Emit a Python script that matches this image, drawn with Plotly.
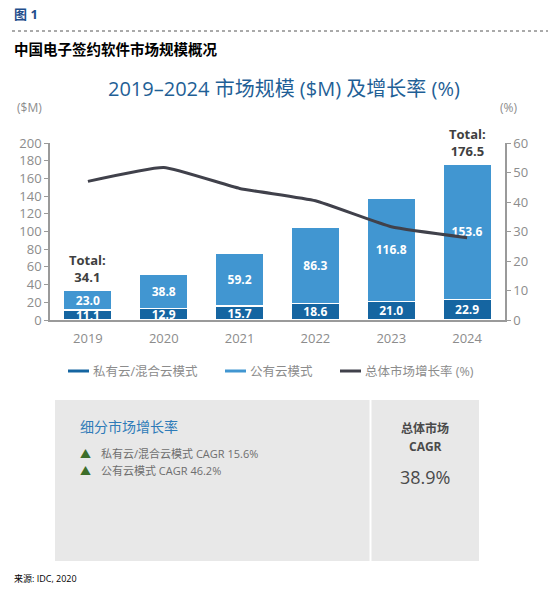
import plotly.graph_objects as go

years = ["2019", "2020", "2021", "2022", "2023", "2024"]
private_cloud = [11.1, 12.9, 15.7, 18.6, 21.0, 22.9]
public_cloud = [23.0, 38.8, 59.2, 86.3, 116.8, 153.6]
growth_rate = [47.0, 51.7, 44.6, 40.4, 31.6, 27.9]
total_years = ["2019", "2024"]
total_values = [34.1, 176.5]
left_ticks = list(range(0, 201, 20))
right_ticks = list(range(0, 61, 10))

# page body has an 8px margin, so the figure is a bit smaller than the window
W, H = 548, 583
L, R, T, B = 42, 51, 135, 271
FONT = "Open Sans, Noto Sans CJK SC, sans-serif"
DARK_BLUE = "#1565a1"
LIGHT_BLUE = "#4196d1"
LINE_C = "#40414b"
AXIS_C = "#9a9a9a"
TICK_C = "#8c8c8c"


def fx(p):  # window pixel -> paper x
    return (p - 8 - L) / (W - L - R)


def fy(p):  # window pixel -> paper y
    return (H - B - (p - 8)) / (H - T - B)


fig = go.Figure()
fig.add_trace(go.Bar(
    x=years, y=private_cloud, name="私有云/混合云模式",
    marker=dict(color=DARK_BLUE, line=dict(color="white", width=1.5)),
    texttemplate="<b>%{y:.1f}</b>", textposition="inside", insidetextanchor="middle",
    textfont=dict(color="white", size=12, family="Open Sans"),
))
fig.add_trace(go.Bar(
    x=years, y=public_cloud, name="公有云模式",
    marker=dict(color=LIGHT_BLUE, line=dict(color="white", width=1.5)),
    texttemplate="<b>%{y:.1f}</b>", textposition="inside", insidetextanchor="middle",
    textfont=dict(color="white", size=12, family="Open Sans"),
))
fig.add_trace(go.Scatter(
    x=years, y=growth_rate, name="总体市场增长率 (%)", yaxis="y2",
    mode="lines", line=dict(color=LINE_C, width=3, shape="spline", smoothing=0.4),
))

# "Total:" labels above the first and last bars
for yr, tot in zip(total_years, total_values):
    fig.add_annotation(x=years.index(yr), y=tot, xref="x", yref="y",
                       text=f"<b>Total:<br>{tot}</b>", showarrow=False,
                       yanchor="bottom", yshift=2,
                       font=dict(size=13, color="#404040", family="Open Sans"))

ann = []
shapes = []
# header
ann.append(dict(x=fx(12), y=fy(14), text="<b>图 1</b>", xanchor="left", yanchor="middle",
                font=dict(size=13, color="#1f4e8c")))
shapes.append(dict(type="line", xref="paper", yref="paper", x0=fx(12), x1=fx(560),
                   y0=fy(31), y1=fy(31), line=dict(color="#555555", width=1, dash="dot")))
ann.append(dict(x=fx(12), y=fy(49), text="<b>中国电子签约软件市场规模概况</b>", xanchor="left",
                yanchor="middle", font=dict(size=14.5, color="black")))
ann.append(dict(x=fx(284), y=fy(88), text="2019–2024 市场规模 ($M) 及增长率 (%)",
                xanchor="center", yanchor="middle", font=dict(size=20, color="#1f5f96")))
ann.append(dict(x=fx(29), y=fy(108), text="($M)", xanchor="center", yanchor="middle",
                font=dict(size=12, color=TICK_C)))
ann.append(dict(x=fx(508), y=fy(108), text="(%)", xanchor="center", yanchor="middle",
                font=dict(size=12, color=TICK_C)))

# legend
legend_items = [
    (68, DARK_BLUE, "私有云/混合云模式"),
    (225, LIGHT_BLUE, "公有云模式"),
    (340, LINE_C, "总体市场增长率 (%)"),
]
for x0, col, label in legend_items:
    shapes.append(dict(type="rect", xref="paper", yref="paper", x0=fx(x0), x1=fx(x0 + 21),
                       y0=fy(372.5), y1=fy(369.5), fillcolor=col, line=dict(width=0)))
    ann.append(dict(x=fx(x0 + 23), y=fy(371), text=label, xanchor="left", yanchor="middle",
                    font=dict(size=12.5, color=TICK_C)))

# summary box
shapes.append(dict(type="rect", xref="paper", yref="paper", x0=fx(55), x1=fx(369.5),
                   y0=fy(561), y1=fy(400), fillcolor="#e8e8e8", line=dict(width=0), layer="below"))
shapes.append(dict(type="rect", xref="paper", yref="paper", x0=fx(371.5), x1=fx(479),
                   y0=fy(561), y1=fy(400), fillcolor="#e8e8e8", line=dict(width=0), layer="below"))
ann.append(dict(x=fx(78), y=fy(426), text="细分市场增长率", xanchor="left", yanchor="middle",
                font=dict(size=14, color="#2e7bb8")))
for py, txt in [(453, "私有云/混合云模式 CAGR 15.6%"), (470, "公有云模式 CAGR 46.2%")]:
    ann.append(dict(x=fx(85), y=fy(py), text="▲", xanchor="center", yanchor="middle",
                    font=dict(size=11, color="#3d6e2a")))
    ann.append(dict(x=fx(99), y=fy(py), text=txt, xanchor="left", yanchor="middle",
                    font=dict(size=11, color="#6e6e6e")))
ann.append(dict(x=fx(425), y=fy(428), text="<b>总体市场</b>", xanchor="center", yanchor="middle",
                font=dict(size=12, color="#4a4a4a")))
ann.append(dict(x=fx(425), y=fy(446), text="<b>CAGR</b>", xanchor="center", yanchor="middle",
                font=dict(size=12, color="#4a4a4a")))
ann.append(dict(x=fx(425), y=fy(477), text="38.9%", xanchor="center", yanchor="middle",
                font=dict(size=18, color="#4a4a4a")))
ann.append(dict(x=fx(12), y=fy(578), text="来源: IDC, 2020", xanchor="left", yanchor="middle",
                font=dict(size=9, color="black")))

for a in ann:
    a.update(xref="paper", yref="paper", showarrow=False)
    fig.add_annotation(**a)

fig.update_layout(
    width=W, height=H, margin=dict(l=L, r=R, t=T, b=B, autoexpand=False),
    barmode="stack", bargap=0.36, showlegend=False,
    plot_bgcolor="white", paper_bgcolor="white",
    font=dict(family=FONT, color=TICK_C),
    uniformtext=dict(minsize=12, mode="show"),
    shapes=shapes,
    xaxis=dict(type="category", showline=True, linecolor=AXIS_C, linewidth=1.5, ticks="",
               showgrid=False, ticklabelstandoff=6,
               tickfont=dict(size=13, color=TICK_C), range=[-0.5, 5.5]),
    yaxis=dict(range=[0, 200], tickvals=left_ticks, showline=True, linecolor=AXIS_C,
               linewidth=1.5, ticks="outside", ticklen=4, tickcolor=AXIS_C, showgrid=False,
               zeroline=False, tickfont=dict(size=13, color=TICK_C)),
    yaxis2=dict(range=[0, 60], tickvals=right_ticks, overlaying="y", side="right",
                showline=True, linecolor=AXIS_C, linewidth=1.5, ticks="outside", ticklen=4,
                tickcolor=AXIS_C, showgrid=False, zeroline=False,
                tickfont=dict(size=13, color=TICK_C)),
)

fig.write_html("out.html")
